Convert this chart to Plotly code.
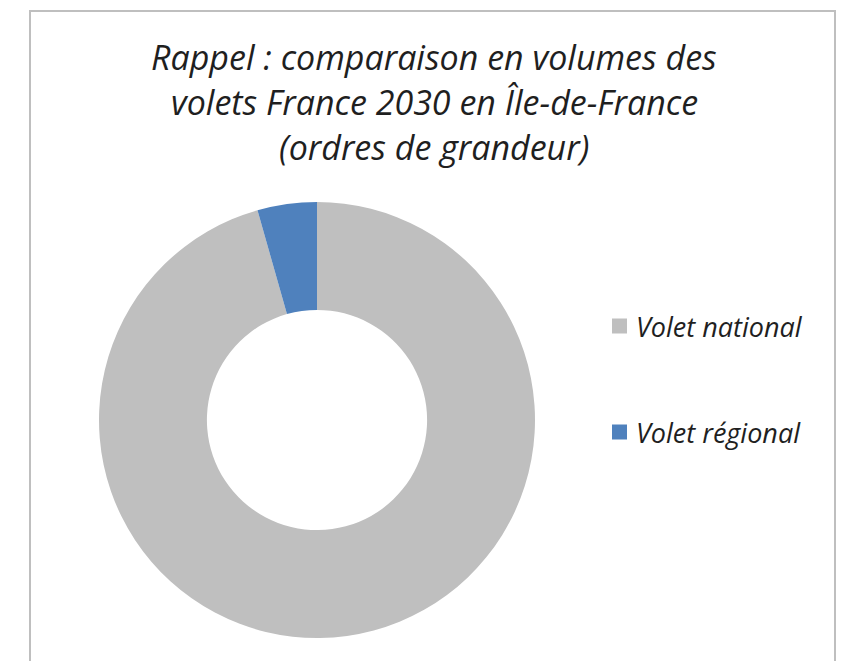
import plotly.graph_objects as go

# Page body has an 8px default margin: figure is sized and positioned to compensate
OFF = 8
W, H = 847 - OFF, 661 - OFF

# Data
labels = ["Volet national", "Volet régional"]
values = [95.6, 4.4]
colors = ["#BFBFBF", "#4F81BD"]
title_lines = [
    "Rappel : comparaison en volumes des",
    "volets France 2030 en Île-de-France",
    "(ordres de grandeur)",
]

FONT = "Open Sans"

def px_x(x):
    return (x - OFF) / W

def px_y(y):
    return 1 - (y - OFF) / H

fig = go.Figure(
    go.Pie(
        labels=labels,
        values=values,
        hole=0.505,
        sort=False,
        direction="clockwise",
        rotation=0,
        marker=dict(colors=colors, line=dict(width=0)),
        textinfo="none",
        hoverinfo="label+percent",
        showlegend=False,
        domain=dict(x=[px_x(98), px_x(536)], y=[px_y(638), px_y(202)]),
    )
)

shapes = [
    dict(type="rect", xref="paper", yref="paper",
         x0=px_x(30), x1=px_x(835), y0=px_y(680), y1=px_y(11),
         line=dict(color="#BFBFBF", width=2), fillcolor="rgba(0,0,0,0)", layer="below"),
]
annotations = []

# Title lines
title_y = [57, 102, 147]
for line, y in zip(title_lines, title_y):
    annotations.append(dict(
        text=line, x=px_x(434), y=px_y(y), xref="paper", yref="paper",
        xanchor="center", yanchor="middle", showarrow=False,
        font=dict(family=FONT, size=34, color="#1f1f1f", style="italic"),
    ))

# Manual legend
legend_y = [326, 432]
for lab, col, y in zip(labels, colors, legend_y):
    shapes.append(dict(type="rect", xref="paper", yref="paper",
                       x0=px_x(612), x1=px_x(627), y0=px_y(y + 7.5), y1=px_y(y - 7.5),
                       line=dict(width=0), fillcolor=col))
    annotations.append(dict(
        text=lab, x=px_x(634), y=px_y(y), xref="paper", yref="paper",
        xanchor="left", yanchor="middle", showarrow=False,
        font=dict(family=FONT, size=27, color="#1f1f1f", style="italic"),
    ))

fig.update_layout(
    width=W, height=H,
    margin=dict(l=0, r=0, t=0, b=0),
    paper_bgcolor="white",
    plot_bgcolor="white",
    shapes=shapes,
    annotations=annotations,
)

fig.write_html("out.html")
